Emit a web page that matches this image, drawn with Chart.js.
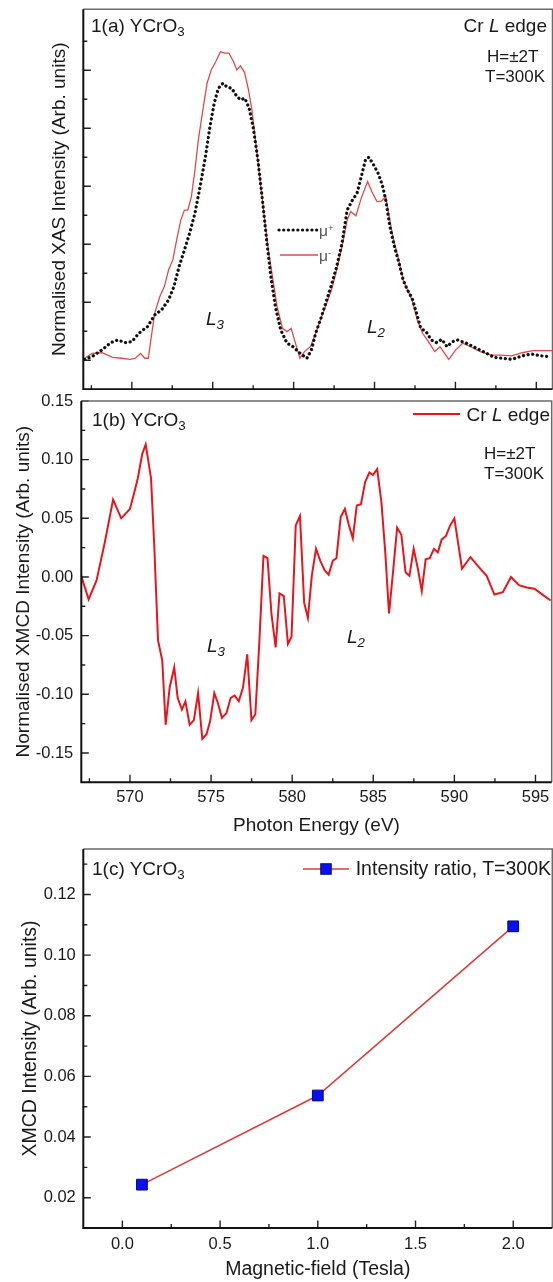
<!DOCTYPE html>
<html>
<head>
<meta charset="utf-8">
<script src="https://cdn.jsdelivr.net/npm/chart.js@4.4.0/dist/chart.umd.min.js"></script>
<style>
  body { margin: 0; background: #fff; }
  #page { position: relative; width: 553px; height: 1282px; overflow: hidden;
          font-family: "Liberation Sans", Arial, sans-serif; color: #1a1a1a; }
  canvas { position: absolute; left: 0; }
  .t { position: absolute; white-space: nowrap; line-height: 1; }
  .t sub { font-size: 0.7em; vertical-align: -0.32em; line-height: 0; }
  .t sup { font-size: 0.62em; vertical-align: 0.55em; line-height: 0; }
  .t i { font-style: italic; }
</style>
</head>
<body>
<div id="page">
  <canvas id="xas" width="553" height="390" style="top:0"></canvas>
  <canvas id="xmcd" width="553" height="450" style="top:390px"></canvas>
  <canvas id="ratio" width="553" height="442" style="top:840px"></canvas>
</div>
<script>
// --- data ---
// 1(a) XAS, mu+ (dotted) and mu- (red)
const plusEnergy = [567.08,567.55,568.16,568.7,569.13,569.57,570.0,570.43,570.97,571.41,571.84,572.27,572.6,572.92,573.25,573.57,573.9,574.22,574.55,574.83,575.09,575.35,575.63,575.91,576.17,576.43,576.71,576.99,577.25,577.51,577.79,578.07,578.33,578.59,578.87,579.2,579.59,579.96,580.28,580.54,580.82,581.1,581.36,581.69,582.01,582.34,582.66,582.99,583.31,583.64,583.92,584.18,584.44,584.65,584.94,585.22,585.48,585.69,585.95,586.23,586.52,586.77,587.03,587.32,587.6,587.86,588.18,588.51,588.83,589.16,589.48,589.81,590.13,590.67,591.32,591.86,592.4,592.94,593.48,594.13,594.68,595.32,595.76];
const plusXas = [0.103,0.113,0.136,0.161,0.170,0.161,0.164,0.193,0.216,0.256,0.274,0.308,0.354,0.423,0.480,0.538,0.607,0.699,0.802,0.906,0.986,1.038,1.055,1.041,1.038,1.015,0.998,1.003,0.969,0.900,0.791,0.653,0.515,0.389,0.285,0.205,0.159,0.147,0.130,0.118,0.107,0.136,0.193,0.245,0.302,0.360,0.423,0.503,0.618,0.653,0.676,0.733,0.791,0.800,0.774,0.745,0.705,0.653,0.561,0.492,0.434,0.377,0.343,0.314,0.262,0.210,0.199,0.170,0.161,0.172,0.147,0.164,0.170,0.159,0.141,0.126,0.110,0.107,0.103,0.115,0.122,0.115,0.113];
const minusEnergy = [567.08,567.55,568.16,568.81,569.35,569.89,570.22,570.54,570.8,571.02,571.19,571.41,571.73,572.01,572.27,572.53,572.81,573.03,573.25,573.46,573.68,573.9,574.11,574.39,574.65,574.91,575.19,575.48,575.74,576.0,576.28,576.49,576.71,576.97,577.21,577.42,577.64,577.9,578.16,578.44,578.72,578.98,579.31,579.59,579.85,580.11,580.39,580.67,581.04,581.36,581.69,582.01,582.34,582.66,582.99,583.31,583.53,583.85,584.18,584.57,584.83,585.15,585.43,585.69,585.91,586.13,586.45,586.77,587.03,587.32,587.64,587.97,588.33,588.72,589.05,589.33,589.59,590.02,590.45,591.0,591.54,592.19,592.84,593.48,594.13,594.78,596.0];
const minusXas = [0.107,0.124,0.126,0.110,0.107,0.103,0.107,0.124,0.107,0.107,0.176,0.262,0.320,0.354,0.411,0.446,0.526,0.584,0.618,0.618,0.664,0.756,0.860,0.963,1.055,1.101,1.130,1.164,1.159,1.159,1.130,1.101,1.115,1.092,1.032,0.963,0.860,0.733,0.607,0.480,0.377,0.285,0.210,0.199,0.210,0.159,0.107,0.130,0.147,0.193,0.245,0.291,0.343,0.411,0.492,0.584,0.613,0.598,0.659,0.716,0.682,0.647,0.649,0.664,0.595,0.526,0.457,0.377,0.343,0.308,0.239,0.193,0.164,0.130,0.147,0.124,0.103,0.136,0.159,0.145,0.130,0.118,0.118,0.115,0.126,0.133,0.133];

// 1(b) XMCD
const xmcdEnergy = [566.97,567.45,567.94,568.44,568.96,569.46,570.0,570.32,570.48,570.76,570.97,571.3,571.5,571.73,571.99,572.2,572.45,572.73,572.94,573.2,573.42,573.68,573.94,574.2,574.46,574.72,574.94,575.2,575.41,575.67,575.95,576.21,576.45,576.71,576.97,577.23,577.49,577.73,577.97,578.23,578.48,578.72,578.98,579.22,579.48,579.74,579.96,580.22,580.48,580.74,580.97,581.21,581.47,581.73,581.99,582.25,582.51,582.73,582.99,583.25,583.5,583.74,583.98,584.24,584.5,584.76,584.98,585.24,585.5,585.74,585.97,586.23,586.47,586.73,586.99,587.23,587.49,587.75,587.99,588.23,588.48,588.74,588.98,589.22,589.48,589.74,590.0,590.47,590.99,591.47,591.99,592.47,592.99,593.49,593.98,594.46,594.94,595.43,595.93];
const xmcdValue = [0.002,-0.019,-0.003,0.029,0.066,0.050,0.058,0.075,0.084,0.105,0.113,0.084,0.026,-0.054,-0.071,-0.126,-0.094,-0.077,-0.103,-0.113,-0.106,-0.126,-0.122,-0.099,-0.138,-0.134,-0.123,-0.099,-0.107,-0.120,-0.116,-0.103,-0.101,-0.106,-0.094,-0.066,-0.122,-0.117,-0.057,0.018,0.016,-0.031,-0.060,-0.014,-0.016,-0.057,-0.051,0.044,0.052,-0.022,-0.035,0.001,0.024,0.014,0.006,0.002,0.014,0.016,0.051,0.058,0.044,0.033,0.061,0.062,0.081,0.089,0.087,0.092,0.064,0.021,-0.031,0.006,0.042,0.036,0.004,0.001,0.024,0.007,-0.012,0.015,0.016,0.024,0.021,0.032,0.035,0.044,0.050,0.007,0.017,0.009,0.001,-0.015,-0.013,0.000,-0.007,-0.009,-0.010,-0.015,-0.020];

// 1(c) intensity ratio vs field
const fieldTesla = [0.1, 1.0, 2.0];
const ratioValue = [0.0243, 0.0537, 0.1095];

// tick values
const energyTicks = [570, 575, 580, 585, 590, 595];
const xasTicks = [0.1, 0.3, 0.5, 0.7, 0.9, 1.1];
const xmcdTicks = [-0.15, -0.10, -0.05, 0.00, 0.05, 0.10, 0.15];
const fieldTicks = [0.0, 0.5, 1.0, 1.5, 2.0];
const ratioTicks = [0.02, 0.04, 0.06, 0.08, 0.10, 0.12];

const FONT = '"Liberation Sans", Arial, sans-serif';
const INK = '#1a1a1a';
Chart.defaults.font.family = FONT;
Chart.defaults.color = INK;

const pairs = (xs, ys) => xs.map((x, i) => ({ x: x, y: ys[i] }));
const useTicks = list => scale => { scale.ticks = list.map(v => ({ value: v })); };
// fixed axis box, no extra room for edge labels
const fitTo = (key, size) => scale => {
  scale[key] = size;
  scale.paddingLeft = scale.paddingRight = scale.paddingTop = scale.paddingBottom = 0;
};

// box + inward ticks (major and half-step minor)
const framePlugin = {
  id: 'frame',
  afterDraw(chart) {
    const { ctx, chartArea: a, scales } = chart;
    const minors = (scale) => {
      const maj = scale.ticks.map(t => t.value);
      const step = maj[1] - maj[0];
      const out = [];
      for (let i = -1; i < maj.length; i++) {
        const v = i < 0 ? maj[0] - step / 2 : maj[i] + step / 2;
        if (v > scale.min + 1e-9 && v < scale.max - 1e-9) out.push(v);
      }
      return out;
    };
    ctx.save();
    ctx.strokeStyle = '#222';
    ctx.lineWidth = 1.4;
    ctx.beginPath();
    const xs = scales.x, ys = scales.y;
    xs.ticks.forEach(t => { const p = xs.getPixelForValue(t.value); ctx.moveTo(p, a.bottom); ctx.lineTo(p, a.bottom - 7.5); });
    minors(xs).forEach(v => { const p = xs.getPixelForValue(v); ctx.moveTo(p, a.bottom); ctx.lineTo(p, a.bottom - 4); });
    ys.ticks.forEach(t => { const p = ys.getPixelForValue(t.value); ctx.moveTo(a.left, p); ctx.lineTo(a.left + 7.5, p); });
    minors(ys).forEach(v => { const p = ys.getPixelForValue(v); ctx.moveTo(a.left, p); ctx.lineTo(a.left + 4, p); });
    ctx.stroke();
    ctx.strokeStyle = '#6a6a6a';
    ctx.lineWidth = 1.5;
    ctx.beginPath();
    ctx.moveTo(a.left, a.top); ctx.lineTo(a.right, a.top); ctx.lineTo(a.right, a.bottom);
    ctx.stroke();
    ctx.strokeStyle = '#111';
    ctx.lineWidth = 2;
    ctx.beginPath();
    ctx.moveTo(a.left, a.top); ctx.lineTo(a.left, a.bottom); ctx.lineTo(a.right, a.bottom);
    ctx.stroke();
    ctx.restore();
  }
};

// legend line samples, drawn at fixed spots inside the panels
const samplePlugin = {
  id: 'samples',
  afterDraw(chart, args, opts) {
    const ctx = chart.ctx;
    (opts.items || []).forEach(it => {
      ctx.save();
      ctx.strokeStyle = it.color;
      ctx.lineWidth = it.width;
      ctx.lineCap = it.dash ? 'round' : 'butt';
      ctx.setLineDash(it.dash || []);
      ctx.beginPath();
      ctx.moveTo(it.x1, it.y); ctx.lineTo(it.x2, it.y);
      ctx.stroke();
      if (it.marker) {
        const m = it.marker;
        ctx.setLineDash([]);
        ctx.fillStyle = m.fill;
        ctx.fillRect(m.x - m.s / 2, it.y - m.s / 2, m.s, m.s);
        ctx.strokeStyle = m.stroke; ctx.lineWidth = 1;
        ctx.strokeRect(m.x - m.s / 2, it.y - m.s / 2, m.s, m.s);
      }
      ctx.restore();
    });
  }
};

function baseOptions(pad, x, y, items) {
  return {
    responsive: false,
    animation: false,
    devicePixelRatio: 1,
    layout: { padding: pad, autoPadding: false },
    elements: { point: { radius: 0 }, line: { tension: 0 } },
    plugins: { legend: { display: false }, tooltip: { enabled: false }, samples: { items: items } },
    scales: { x: x, y: y }
  };
}

function axis(extra) {
  return Object.assign({
    type: 'linear',
    grid: { display: false, drawTicks: false },
    border: { display: false }
  }, extra);
}

// ---- 1(a) ----
new Chart(document.getElementById('xas'), {
  type: 'line',
  data: {
    datasets: [
      { data: pairs(plusEnergy, plusXas), borderColor: '#111', borderWidth: 3.2,
        borderDash: [0.1, 4.6], borderCapStyle: 'round' },
      { data: pairs(minusEnergy, minusXas), borderColor: '#e04a4e', borderWidth: 1.3 }
    ]
  },
  options: baseOptions({ top: 9.3, right: 0.5, left: 0, bottom: 0 },
    axis({ min: 567, max: 596, afterBuildTicks: useTicks(energyTicks),
      afterFit: fitTo('height', 0.7), ticks: { display: false } }),
    axis({ min: 0, max: 1.31, afterBuildTicks: useTicks(xasTicks),
      afterFit: fitTo('width', 83.3), ticks: { display: false },
      title: { display: true, text: 'Normalised XAS Intensity (Arb. units)', color: INK,
        font: { size: 19 }, padding: { top: 48.6, bottom: 0 } } }),
    [ { x1: 279, x2: 317, y: 230, color: '#111', width: 3.2, dash: [0.1, 4.6] },
      { x1: 280, x2: 318, y: 255, color: '#e04a4e', width: 1.3 } ]),
  plugins: [framePlugin, samplePlugin]
});

// ---- 1(b) ----
new Chart(document.getElementById('xmcd'), {
  type: 'line',
  data: {
    datasets: [
      { data: pairs(xmcdEnergy, xmcdValue), borderColor: '#e8151d', borderWidth: 2 }
    ]
  },
  options: baseOptions({ top: 11, right: 1.3, left: 0, bottom: 0 },
    axis({ min: 567, max: 596, afterBuildTicks: useTicks(energyTicks),
      afterFit: fitTo('height', 57.7),
      ticks: { autoSkip: false, maxRotation: 0, padding: 5.4, font: { size: 16.5 }, color: INK },
      title: { display: true, text: 'Photon Energy (eV)', color: INK,
        font: { size: 19 }, padding: { top: 0, bottom: 2.6 } } }),
    axis({ min: -0.175, max: 0.15, afterBuildTicks: useTicks(xmcdTicks),
      afterFit: fitTo('width', 81.3),
      ticks: { autoSkip: false, padding: 8, font: { size: 16.5 }, color: INK,
        callback: v => v.toFixed(2) },
      title: { display: true, text: 'Normalised XMCD Intensity (Arb. units)', color: INK,
        font: { size: 19 }, padding: { top: 12.6, bottom: 0 } } }),
    [ { x1: 413, x2: 460, y: 24, color: '#e8151d', width: 2 } ]),
  plugins: [framePlugin, samplePlugin]
});

// ---- 1(c) ----
new Chart(document.getElementById('ratio'), {
  type: 'line',
  data: {
    datasets: [
      { data: pairs(fieldTesla, ratioValue), borderColor: '#dc3c3f', borderWidth: 1.6,
        pointStyle: 'rect', pointRadius: 7.6, pointBackgroundColor: '#0a10ee',
        pointBorderColor: '#00088a', pointBorderWidth: 1 }
    ]
  },
  options: baseOptions({ top: 9, right: 0.7, left: 0, bottom: 0 },
    axis({ min: -0.2, max: 2.2, afterBuildTicks: useTicks(fieldTicks),
      afterFit: fitTo('height', 54),
      ticks: { autoSkip: false, maxRotation: 0, padding: 6.4, font: { size: 16.5 }, color: INK,
        callback: v => v.toFixed(1) },
      title: { display: true, text: 'Magnetic-field (Tesla)', color: INK,
        font: { size: 19.5 }, padding: { top: 0, bottom: 0.6 } } }),
    axis({ min: 0.01, max: 0.135, afterBuildTicks: useTicks(ratioTicks),
      afterFit: fitTo('width', 83.3),
      ticks: { autoSkip: false, padding: 7.5, font: { size: 16.5 }, color: INK,
        callback: v => v.toFixed(2) },
      title: { display: true, text: 'XMCD Intensity (Arb. units)', color: INK,
        font: { size: 19.5 }, padding: { top: 18.6, bottom: 0 } } }),
    [ { x1: 303, x2: 349, y: 29, color: '#dc3c3f', width: 1.6,
        marker: { x: 326, s: 10.5, fill: '#0a10ee', stroke: '#00088a' } } ]),
  plugins: [framePlugin, samplePlugin]
});

// ---- in-panel annotations ----
const page = document.getElementById('page');
function note(html, x, base, size, opt) {
  opt = opt || {};
  const d = document.createElement('div');
  d.className = 't';
  d.innerHTML = html;
  d.style.fontSize = size + 'px';
  d.style.top = (base - 0.8465 * size) + 'px';
  if (opt.right != null) d.style.right = opt.right + 'px'; else d.style.left = x + 'px';
  if (opt.color) d.style.color = opt.color;
  page.appendChild(d);
}
note('1(a) YCrO<sub>3</sub>', 91, 32, 19);
note('Cr <i>L</i> edge', 0, 32, 19, { right: 6 });
note('H=&plusmn;2T', 487, 62, 17);
note('T=300K', 485, 82, 17);
note('<i>L</i><sub><i>3</i></sub>', 206, 325, 19);
note('<i>L</i><sub><i>2</i></sub>', 367, 333, 19);
note('&mu;<sup>+</sup>', 319, 236, 15.5, { color: '#555' });
note('&mu;<sup>-</sup>', 319, 261, 15.5, { color: '#555' });

note('1(b) YCrO<sub>3</sub>', 92, 426, 19);
note('Cr <i>L</i> edge', 0, 421, 19, { right: 3 });
note('H=&plusmn;2T', 484, 459, 17);
note('T=300K', 484, 479.5, 17);
note('<i>L</i><sub><i>3</i></sub>', 207, 652, 19);
note('<i>L</i><sub><i>2</i></sub>', 347, 643, 19);

note('1(c) YCrO<sub>3</sub>', 92, 875, 19);
note('Intensity ratio, T=300K', 0, 876, 19.5, { right: 2 });
</script>
</body>
</html>
